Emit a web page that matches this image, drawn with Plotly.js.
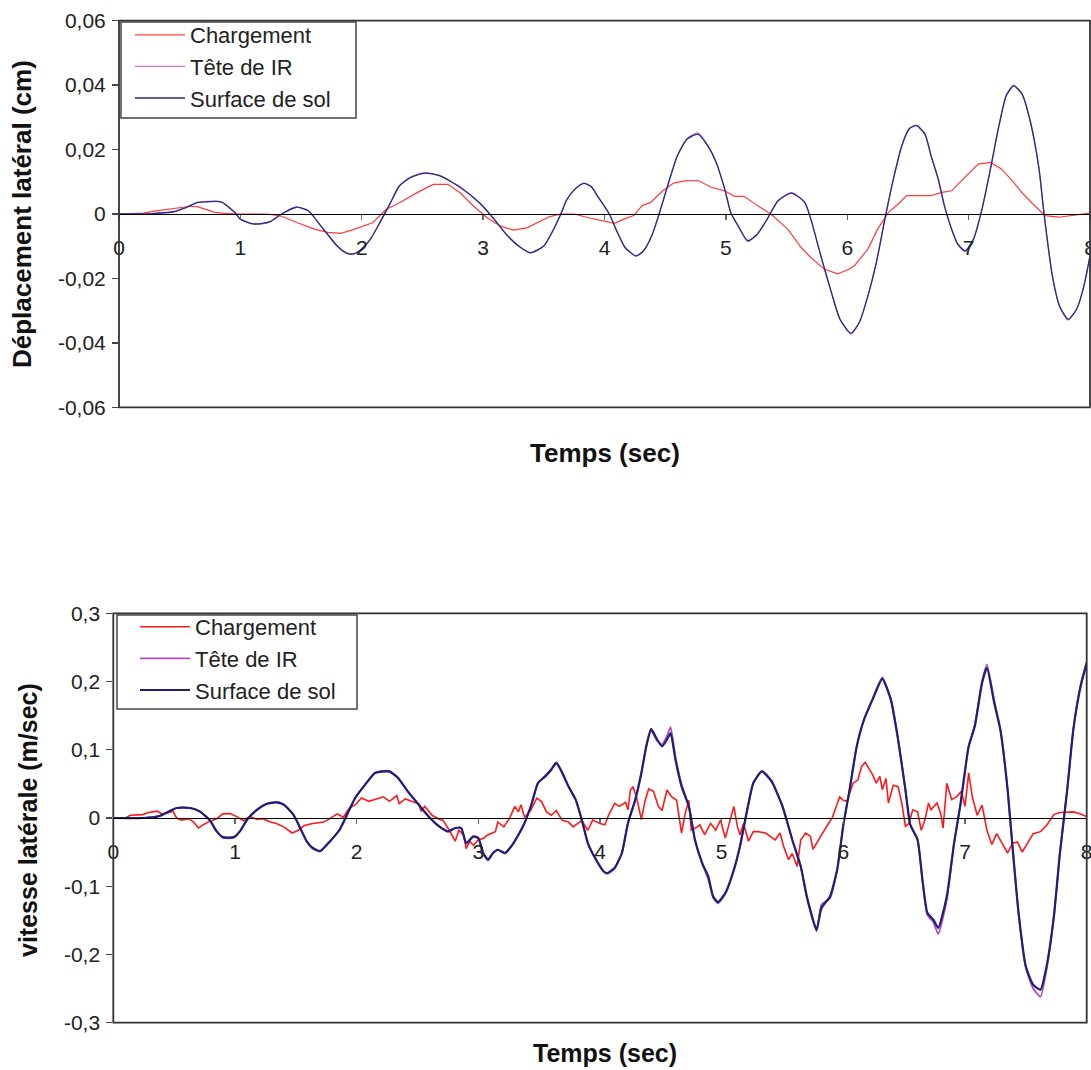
<!DOCTYPE html>
<html>
<head>
<meta charset="utf-8">
<script src="https://cdn.plot.ly/plotly-3.0.1.min.js"></script>
<style>
  html, body { margin: 0; padding: 0; background: #ffffff; }
  #chart { width: 1091px; height: 1070px; }
</style>
</head>
<body>
<div id="chart"></div>
<script>
// ---------- Tick labels ----------
const xTickVals = [0, 1, 2, 3, 4, 5, 6, 7, 8];
const xTickText = ['0', '1', '2', '3', '4', '5', '6', '7', '8'];
const depTickVals = [-0.06, -0.04, -0.02, 0, 0.02, 0.04, 0.06];
const depTickText = ['-0,06', '-0,04', '-0,02', '0', '0,02', '0,04', '0,06'];
const vitTickVals = [-0.3, -0.2, -0.1, 0, 0.1, 0.2, 0.3];
const vitTickText = ['-0,3', '-0,2', '-0,1', '0', '0,1', '0,2', '0,3'];

// ---------- Series names ----------
const seriesNames = ['Chargement', 'Tête de IR', 'Surface de sol'];

// ---------- Top chart: Déplacement latéral (cm) ----------
const depT_charge = [0, 0.2, 0.29, 0.45, 0.59, 0.65, 0.72, 0.79, 0.87, 1.0, 1.22, 1.34, 1.47, 1.61, 1.72, 1.83, 1.94, 2.01, 2.09, 2.20, 2.31, 2.48, 2.59, 2.71, 2.81, 2.92, 3.03, 3.14, 3.25, 3.36, 3.47, 3.55, 3.64, 3.75, 3.86, 3.97, 4.08, 4.16, 4.24, 4.31, 4.38, 4.48, 4.57, 4.66, 4.77, 4.88, 4.99, 5.07, 5.15, 5.26, 5.37, 5.51, 5.62, 5.70, 5.81, 5.92, 6.02, 6.06, 6.17, 6.25, 6.34, 6.42, 6.49, 6.58, 6.69, 6.78, 6.86, 6.94, 7.02, 7.08, 7.18, 7.27, 7.36, 7.45, 7.53, 7.63, 7.74, 7.88, 8.0];
const dep_charge = [0, 0.0003, 0.0009, 0.0017, 0.0024, 0.0022, 0.0014, 0.0005, 0.0002, 0, 0, -0.0007, -0.0027, -0.0047, -0.0057, -0.006, -0.0047, -0.0038, -0.0027, 0.0014, 0.0035, 0.0071, 0.0092, 0.0092, 0.0066, 0.0025, -0.0011, -0.0037, -0.005, -0.0043, -0.0023, -0.0008, 0, 0, -0.0011, -0.0021, -0.0029, -0.0016, -0.0005, 0.0026, 0.0036, 0.0072, 0.0096, 0.0103, 0.0104, 0.0083, 0.0072, 0.0055, 0.0055, 0.0026, 0, -0.0047, -0.0104, -0.0135, -0.0171, -0.0186, -0.0171, -0.016, -0.0109, -0.0047, 0.0005, 0.0031, 0.0057, 0.0057, 0.0057, 0.0067, 0.0072, 0.0103, 0.0134, 0.0155, 0.016, 0.014, 0.0103, 0.0062, 0.0031, -0.0005, -0.001, -0.0003, 0.0003];

const depT_sol = [0, 0.1, 0.2, 0.3, 0.45, 0.55, 0.65, 0.73, 0.84, 0.95, 1.0, 1.09, 1.17, 1.25, 1.34, 1.46, 1.56, 1.64, 1.72, 1.80, 1.88, 1.94, 1.99, 2.07, 2.15, 2.23, 2.31, 2.40, 2.52, 2.64, 2.81, 2.98, 3.09, 3.20, 3.31, 3.39, 3.50, 3.58, 3.64, 3.69, 3.76, 3.83, 3.89, 3.94, 4.04, 4.10, 4.17, 4.26, 4.32, 4.39, 4.45, 4.52, 4.60, 4.68, 4.77, 4.85, 4.92, 4.99, 5.04, 5.10, 5.18, 5.26, 5.34, 5.43, 5.54, 5.65, 5.70, 5.79, 5.87, 5.94, 6.03, 6.10, 6.17, 6.24, 6.31, 6.38, 6.45, 6.51, 6.57, 6.64, 6.69, 6.75, 6.80, 6.86, 6.91, 6.97, 7.04, 7.11, 7.18, 7.25, 7.31, 7.37, 7.44, 7.51, 7.58, 7.62, 7.69, 7.75, 7.82, 7.89, 7.95, 8.0];
const dep_sol = [0, 0, 0, 0.0002, 0.0007, 0.002, 0.0036, 0.0038, 0.0038, 0.0006, -0.0016, -0.003, -0.003, -0.0023, 0, 0.0021, 0.001, -0.0026, -0.0064, -0.01, -0.0122, -0.0123, -0.0112, -0.0079, -0.0026, 0.003, 0.0087, 0.0113, 0.0127, 0.0119, 0.0083, 0.0031, -0.0016, -0.0067, -0.0104, -0.012, -0.0099, -0.0048, 0, 0.0045, 0.0078, 0.0095, 0.0085, 0.0057, 0, -0.0052, -0.0104, -0.013, -0.0115, -0.0067, 0, 0.0087, 0.018, 0.0232, 0.0248, 0.0212, 0.016, 0.0078, 0.0005, -0.0036, -0.0083, -0.0062, -0.0016, 0.0041, 0.0065, 0.0036, -0.0016, -0.014, -0.0244, -0.0326, -0.037, -0.0336, -0.0254, -0.015, -0.0016, 0.0108, 0.0212, 0.0264, 0.0274, 0.0248, 0.0181, 0.0108, 0.0026, -0.0047, -0.0093, -0.0114, -0.0078, 0.0015, 0.014, 0.0274, 0.0367, 0.0398, 0.0372, 0.0284, 0.014, 0.0005, -0.0192, -0.0286, -0.0327, -0.0295, -0.0223, -0.013];
const dep_tete = [0, 0, 0, 0.0002, 0.0007, 0.002, 0.0036, 0.0039, 0.0038, 0.0006, -0.0016, -0.003, -0.0031, -0.0023, 0, 0.0021, 0.001, -0.0026, -0.0064, -0.0101, -0.0123, -0.0124, -0.0112, -0.0079, -0.0026, 0.003, 0.0088, 0.0114, 0.0128, 0.012, 0.0084, 0.0031, -0.0016, -0.0067, -0.0105, -0.0121, -0.01, -0.0048, 0, 0.0045, 0.0079, 0.0096, 0.0086, 0.0057, 0, -0.0052, -0.0105, -0.0131, -0.0116, -0.0067, 0, 0.0088, 0.0181, 0.0234, 0.0252, 0.0214, 0.0161, 0.0078, 0.0005, -0.0037, -0.0085, -0.0063, -0.0016, 0.0041, 0.0066, 0.0036, -0.0016, -0.0141, -0.0245, -0.0328, -0.0372, -0.0337, -0.0255, -0.015, -0.0016, 0.0109, 0.0213, 0.0266, 0.0276, 0.0249, 0.0182, 0.0108, 0.0026, -0.0048, -0.0095, -0.0117, -0.0079, 0.0015, 0.0141, 0.0275, 0.0369, 0.04, 0.0373, 0.0285, 0.014, 0.0005, -0.0193, -0.0288, -0.0329, -0.0296, -0.0224, -0.013];

// ---------- Bottom chart: vitesse latérale (m/sec) ----------
const vitT_charge = [0, 0.1, 0.14, 0.24, 0.29, 0.36, 0.40, 0.44, 0.49, 0.52, 0.56, 0.62, 0.66, 0.70, 0.74, 0.79, 0.85, 0.90, 0.96, 1.01, 1.07, 1.12, 1.18, 1.23, 1.29, 1.34, 1.40, 1.47, 1.52, 1.57, 1.64, 1.73, 1.78, 1.84, 1.89, 1.94, 1.99, 2.04, 2.10, 2.15, 2.22, 2.27, 2.33, 2.35, 2.40, 2.45, 2.51, 2.53, 2.56, 2.62, 2.67, 2.71, 2.75, 2.81, 2.84, 2.88, 2.90, 2.93, 2.96, 3.00, 3.04, 3.08, 3.14, 3.16, 3.21, 3.26, 3.30, 3.33, 3.35, 3.38, 3.43, 3.48, 3.52, 3.56, 3.60, 3.64, 3.69, 3.74, 3.78, 3.85, 3.90, 3.94, 4.00, 4.04, 4.07, 4.12, 4.16, 4.21, 4.23, 4.25, 4.27, 4.30, 4.34, 4.37, 4.40, 4.44, 4.48, 4.51, 4.55, 4.59, 4.63, 4.67, 4.70, 4.73, 4.75, 4.80, 4.82, 4.86, 4.91, 4.95, 4.99, 5.03, 5.07, 5.10, 5.13, 5.15, 5.18, 5.22, 5.26, 5.30, 5.36, 5.40, 5.44, 5.48, 5.51, 5.55, 5.58, 5.62, 5.65, 5.69, 5.73, 5.75, 5.81, 5.86, 5.91, 5.97, 6.00, 6.03, 6.08, 6.12, 6.15, 6.18, 6.24, 6.27, 6.30, 6.32, 6.35, 6.37, 6.41, 6.45, 6.48, 6.51, 6.54, 6.57, 6.61, 6.64, 6.67, 6.70, 6.72, 6.77, 6.80, 6.82, 6.85, 6.89, 6.93, 6.97, 7.00, 7.03, 7.06, 7.10, 7.14, 7.18, 7.22, 7.26, 7.32, 7.35, 7.39, 7.43, 7.47, 7.51, 7.56, 7.62, 7.67, 7.73, 7.78, 7.89, 7.95, 8.0];
const vit_charge = [0, 0, 0.004, 0.005, 0.008, 0.01, 0.006, 0.007, 0.01, 0, -0.003, -0.001, -0.006, -0.0147, -0.0098, -0.005, -0.001, 0.006, 0.0064, 0.0024, -0.004, 0.0024, -0.002, -0.001, -0.006, -0.008, -0.013, -0.022, -0.018, -0.011, -0.008, -0.006, -0.001, 0.006, 0.001, 0.0147, 0.0195, 0.0293, 0.0244, 0.027, 0.031, 0.0244, 0.0327, 0.021, 0.028, 0.0244, 0.021, 0.01, 0.017, 0.004, -0.001, -0.0035, -0.0147, -0.034, -0.018, -0.025, -0.045, -0.034, -0.04, -0.032, -0.03, -0.0245, -0.02, -0.006, -0.013, 0.001, 0.017, 0.009, 0.0195, 0.001, 0.011, 0.029, 0.024, 0.009, 0.004, 0.011, -0.0035, -0.006, -0.013, -0.0035, -0.018, -0.003, -0.008, -0.01, 0.004, 0.0215, 0.017, 0.023, 0.012, 0.041, 0.046, 0.031, -0.0024, 0.025, 0.0425, 0.039, 0.017, 0.011, 0.041, 0.031, 0.026, -0.022, 0.006, 0.026, -0.018, -0.013, -0.01, -0.0245, -0.008, -0.018, -0.003, -0.0293, -0.003, 0.017, -0.013, -0.0245, -0.008, -0.034, -0.02, -0.02, -0.022, -0.027, -0.032, -0.022, -0.042, -0.061, -0.052, -0.071, -0.032, -0.022, -0.027, -0.046, -0.027, -0.013, 0.001, 0.031, 0.026, 0.0245, 0.051, 0.056, 0.0757, 0.0815, 0.0635, 0.051, 0.061, 0.0415, 0.058, 0.022, 0.048, 0.046, 0.022, -0.012, -0.008, 0.012, 0.009, -0.018, -0.003, 0.022, 0.012, 0.022, 0.007, -0.015, 0.051, 0.027, 0.031, 0.039, 0.017, 0.066, 0.031, 0.004, 0.019, -0.018, -0.039, -0.023, -0.042, -0.0513, -0.037, -0.035, -0.05, -0.037, -0.023, -0.02, -0.011, 0.005, 0.008, 0.009, 0.006, 0.002];

const vitT_sol = [0, 0.25, 0.38, 0.52, 0.63, 0.71, 0.79, 0.85, 0.90, 0.99, 1.04, 1.10, 1.18, 1.26, 1.34, 1.40, 1.48, 1.53, 1.59, 1.64, 1.70, 1.78, 1.86, 1.94, 1.99, 2.07, 2.15, 2.21, 2.27, 2.34, 2.42, 2.51, 2.59, 2.67, 2.75, 2.81, 2.86, 2.90, 2.96, 3.00, 3.04, 3.08, 3.12, 3.16, 3.22, 3.27, 3.33, 3.38, 3.44, 3.49, 3.55, 3.60, 3.64, 3.69, 3.74, 3.80, 3.85, 3.90, 3.96, 4.03, 4.06, 4.12, 4.18, 4.23, 4.29, 4.34, 4.38, 4.42, 4.47, 4.51, 4.55, 4.58, 4.62, 4.67, 4.73, 4.78, 4.84, 4.89, 4.93, 4.97, 5.03, 5.10, 5.15, 5.21, 5.26, 5.33, 5.41, 5.50, 5.58, 5.65, 5.70, 5.78, 5.82, 5.89, 5.95, 6.00, 6.05, 6.11, 6.17, 6.24, 6.32, 6.39, 6.45, 6.51, 6.55, 6.61, 6.65, 6.69, 6.74, 6.78, 6.85, 6.91, 6.96, 7.03, 7.08, 7.14, 7.18, 7.24, 7.29, 7.35, 7.39, 7.44, 7.50, 7.56, 7.62, 7.67, 7.73, 7.78, 7.84, 7.89, 7.95, 8.0];
const vit_sol = [0, 0, 0.003, 0.0147, 0.0147, 0.0097, -0.0025, -0.0196, -0.028, -0.028, -0.0196, -0.0025, 0.012, 0.0205, 0.0229, 0.0196, 0.0048, -0.0123, -0.0343, -0.044, -0.0484, -0.0343, -0.0172, 0.012, 0.03, 0.049, 0.066, 0.068, 0.068, 0.0587, 0.039, 0.0195, 0.0024, -0.0113, -0.0196, -0.0147, -0.0147, -0.0367, -0.027, -0.0294, -0.0513, -0.0611, -0.0513, -0.0465, -0.0513, -0.0416, -0.0245, -0.0073, 0.022, 0.0513, 0.061, 0.0708, 0.0806, 0.066, 0.0464, 0.0269, -0.0025, -0.0367, -0.0587, -0.078, -0.0806, -0.0733, -0.0513, -0.0073, 0.0269, 0.066, 0.105, 0.1305, 0.1148, 0.105, 0.1148, 0.1246, 0.0855, 0.0464, 0.017, -0.0318, -0.066, -0.0856, -0.115, -0.1232, -0.11, -0.0758, -0.0416, 0.012, 0.0513, 0.0683, 0.0537, 0.017, -0.0318, -0.071, -0.115, -0.1638, -0.132, -0.115, -0.075, -0.01, 0.04, 0.105, 0.144, 0.1735, 0.204, 0.1735, 0.1148, 0.0415, -0.0098, -0.0318, -0.0905, -0.139, -0.149, -0.161, -0.115, -0.0367, 0.017, 0.105, 0.134, 0.198, 0.22, 0.1686, 0.1295, 0.0415, -0.0416, -0.139, -0.2176, -0.2444, -0.2518, -0.2176, -0.1443, -0.0513, 0.0415, 0.1295, 0.193, 0.227];
const vit_tete = [0, 0, 0.003, 0.015, 0.015, 0.0097, -0.0025, -0.0196, -0.029, -0.029, -0.0196, -0.0025, 0.012, 0.021, 0.0235, 0.02, 0.0048, -0.0123, -0.0343, -0.045, -0.049, -0.0343, -0.0172, 0.012, 0.03, 0.049, 0.066, 0.069, 0.069, 0.059, 0.039, 0.0195, 0.0024, -0.0113, -0.02, -0.015, -0.015, -0.038, -0.027, -0.03, -0.052, -0.062, -0.052, -0.047, -0.052, -0.042, -0.0245, -0.0073, 0.022, 0.0513, 0.062, 0.072, 0.082, 0.067, 0.047, 0.0269, -0.0025, -0.0367, -0.059, -0.079, -0.082, -0.074, -0.0513, -0.0073, 0.0269, 0.066, 0.104, 0.128, 0.113, 0.108, 0.12, 0.133, 0.09, 0.05, 0.017, -0.0318, -0.067, -0.09, -0.117, -0.125, -0.111, -0.077, -0.042, 0.012, 0.0513, 0.069, 0.055, 0.017, -0.0318, -0.071, -0.117, -0.166, -0.127, -0.118, -0.075, -0.01, 0.04, 0.105, 0.145, 0.175, 0.206, 0.175, 0.116, 0.0415, -0.0098, -0.0318, -0.092, -0.142, -0.153, -0.17, -0.12, -0.0367, 0.017, 0.105, 0.136, 0.2, 0.225, 0.172, 0.131, 0.0415, -0.0416, -0.14, -0.22, -0.25, -0.262, -0.222, -0.146, -0.0513, 0.0415, 0.13, 0.195, 0.229];

// ---------- Styling ----------
const FONT = 'Liberation Sans, Arial, sans-serif';
const colTop = ['#ff3b3b', '#cc77cc', '#2a2a85'];
const colBot = ['#ff1a1a', '#b64ab6', '#1f1f7a'];

const traces = [
  {x: depT_charge, y: dep_charge, name: seriesNames[0], xaxis: 'x', yaxis: 'y', legend: 'legend',
   mode: 'lines', line: {color: colTop[0], width: 1.2}},
  {x: depT_sol, y: dep_tete, name: seriesNames[1], xaxis: 'x', yaxis: 'y', legend: 'legend',
   mode: 'lines', line: {color: colTop[1], width: 1.3, shape: 'spline', smoothing: 0.6}},
  {x: depT_sol, y: dep_sol, name: seriesNames[2], xaxis: 'x', yaxis: 'y', legend: 'legend',
   mode: 'lines', line: {color: colTop[2], width: 1.3, shape: 'spline', smoothing: 0.6}},
  {x: vitT_charge, y: vit_charge, name: seriesNames[0], xaxis: 'x2', yaxis: 'y2', legend: 'legend2',
   mode: 'lines', line: {color: colBot[0], width: 1.6}},
  {x: vitT_sol, y: vit_tete, name: seriesNames[1], xaxis: 'x2', yaxis: 'y2', legend: 'legend2',
   mode: 'lines', line: {color: colBot[1], width: 1.8, shape: 'spline', smoothing: 0.5}},
  {x: vitT_sol, y: vit_sol, name: seriesNames[2], xaxis: 'x2', yaxis: 'y2', legend: 'legend2',
   mode: 'lines', line: {color: colBot[2], width: 2.2, shape: 'spline', smoothing: 0.5}}
];

const W = 1091, H = 1070;
const topDomX = [119 / W, 1090 / W];
const topDomY = [1 - 407.3 / H, 1 - 20.7 / H];
const botDomX = [113.3 / W, 1086.7 / W];
const botDomY = [1 - 1022.7 / H, 1 - 613.3 / H];

const tickFont = {family: FONT, size: 21, color: '#222'};
const xCommon = {
  range: [0, 8], tickvals: xTickVals, ticktext: xTickText, showgrid: false, zeroline: false,
  showline: true, linecolor: '#000', linewidth: 1.3, ticks: 'outside', ticklen: 5, tickcolor: '#666',
  tickwidth: 1.3, tickfont: tickFont, anchor: 'free', ticklabeloverflow: 'allow'
};
const yCommon = {
  showgrid: false, zeroline: false, showline: false, ticks: 'outside', ticklen: 6,
  tickcolor: '#444', tickwidth: 1.3, tickfont: tickFont, ticklabelstandoff: 2
};

const legendFont = {family: FONT, size: 22, color: '#222'};
const titleFontTop = {family: FONT, size: 26, color: '#111'};
const titleFontBot = {family: FONT, size: 25, color: '#111'};

const layout = {
  width: W, height: H,
  margin: {l: 0, r: 0, t: 0, b: 0},
  paper_bgcolor: '#ffffff', plot_bgcolor: '#ffffff',
  font: {family: FONT, color: '#222'},
  xaxis: Object.assign({}, xCommon, {domain: topDomX, position: (topDomY[0] + topDomY[1]) / 2,
    ticklabelstandoff: 9}),
  yaxis: Object.assign({}, yCommon, {domain: topDomY, anchor: 'x', range: [-0.06, 0.06],
    tickvals: depTickVals, ticktext: depTickText}),
  xaxis2: Object.assign({}, xCommon, {domain: botDomX, position: (botDomY[0] + botDomY[1]) / 2,
    ticklabelstandoff: 9}),
  yaxis2: Object.assign({}, yCommon, {domain: botDomY, anchor: 'x2', range: [-0.3, 0.3],
    tickvals: vitTickVals, ticktext: vitTickText}),
  legend: {x: 130 / W, y: 1 - 14 / H, xanchor: 'left', yanchor: 'top', bgcolor: 'rgba(0,0,0,0)',
    borderwidth: 0, font: legendFont, itemwidth: 50, tracegroupgap: 0},
  legend2: {x: 135 / W, y: 1 - 606 / H, xanchor: 'left', yanchor: 'top', bgcolor: 'rgba(0,0,0,0)',
    borderwidth: 0, font: legendFont, itemwidth: 50, tracegroupgap: 0},
  shapes: [
    {type: 'rect', xref: 'x domain', yref: 'y domain', x0: 0, x1: 1, y0: 0, y1: 1,
     line: {color: '#333', width: 1.8}, layer: 'above'},
    {type: 'rect', xref: 'x2 domain', yref: 'y2 domain', x0: 0, x1: 1, y0: 0, y1: 1,
     line: {color: '#333', width: 1.8}, layer: 'above'},
    // legend frames
    {type: 'rect', xref: 'paper', yref: 'paper', x0: 121 / W, x1: 356 / W, y0: 1 - 118 / H, y1: 1 - 22 / H,
     fillcolor: '#ffffff', line: {color: '#444', width: 1.5}, layer: 'above'},
    {type: 'rect', xref: 'paper', yref: 'paper', x0: 117 / W, x1: 357 / W, y0: 1 - 709 / H, y1: 1 - 615 / H,
     fillcolor: '#ffffff', line: {color: '#444', width: 1.5}, layer: 'above'}
  ],
  annotations: [
    {text: '<b>Déplacement latéral (cm)</b>', xref: 'paper', yref: 'paper', x: 22 / W, y: 1 - 214 / H,
     xanchor: 'center', yanchor: 'middle', textangle: -90, showarrow: false, font: titleFontTop},
    {text: '<b>Temps (sec)</b>', xref: 'paper', yref: 'paper', x: 605 / W, y: 1 - 453 / H,
     xanchor: 'center', yanchor: 'middle', showarrow: false, font: titleFontTop},
    {text: '<b>vitesse latérale (m/sec)</b>', xref: 'paper', yref: 'paper', x: 28 / W, y: 1 - 820 / H,
     xanchor: 'center', yanchor: 'middle', textangle: -90, showarrow: false, font: titleFontBot},
    {text: '<b>Temps (sec)</b>', xref: 'paper', yref: 'paper', x: 605 / W, y: 1 - 1053 / H,
     xanchor: 'center', yanchor: 'middle', showarrow: false, font: titleFontBot}
  ],
  showlegend: true
};

Plotly.newPlot('chart', traces, layout, {displayModeBar: false, staticPlot: true});
</script>
</body>
</html>
